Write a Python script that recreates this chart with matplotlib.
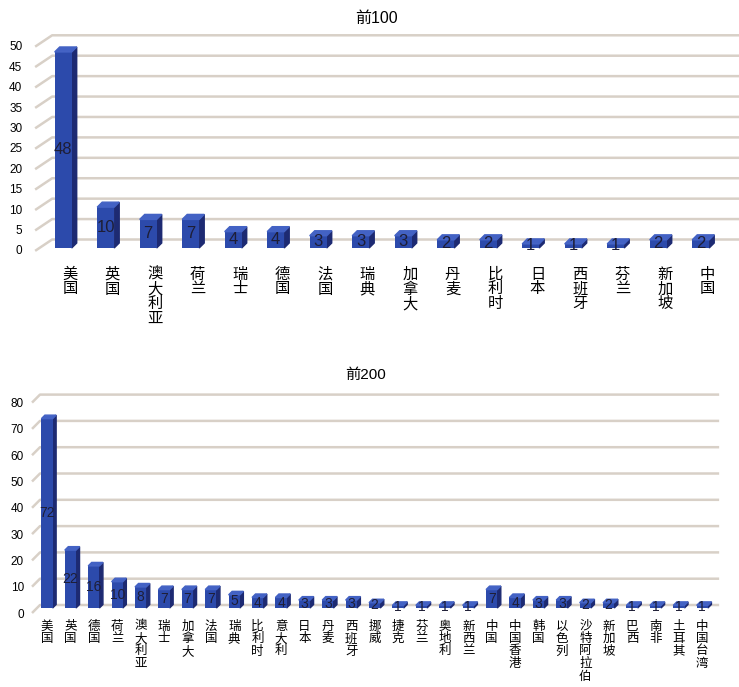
import numpy as np
import matplotlib.pyplot as plt
from matplotlib.patches import Polygon
from matplotlib.transforms import ScaledTranslation

plt.rcParams['font.family'] = ['Liberation Sans', 'Noto Sans CJK SC', 'DejaVu Sans']

# 前100
top100_names = ['美国', '英国', '澳大利亚', '荷兰', '瑞士', '德国', '法国', '瑞典',
                '加拿大', '丹麦', '比利时', '日本', '西班牙', '芬兰', '新加坡', '中国']
top100_counts = [48, 10, 7, 7, 4, 4, 3, 3, 3, 2, 2, 1, 1, 1, 2, 2]
top100_ticks = np.arange(0, 51, 5)

# 前200
top200_names = ['美国', '英国', '德国', '荷兰', '澳大利亚', '瑞士', '加拿大', '法国',
                '瑞典', '比利时', '意大利', '日本', '丹麦', '西班牙', '挪威', '捷克',
                '芬兰', '奥地利', '新西兰', '中国', '中国香港', '韩国', '以色列',
                '沙特阿拉伯', '新加坡', '巴西', '南非', '土耳其', '中国台湾']
top200_counts = [72, 22, 16, 10, 8, 7, 7, 7, 5, 4, 4, 3, 3, 3, 2, 1, 1, 1, 1,
                 7, 4, 3, 3, 2, 2, 1, 1, 1, 1]
top200_ticks = np.arange(0, 81, 10)

FRONT = '#2c4aab'
SIDE = '#1d2a72'
TOPFACE = '#4362c4'
GRID = '#d8d0c7'
VALUE = '#1e1e36'

W, H = 739, 687
fig = plt.figure(figsize=(W / 100, H / 100), dpi=100)


def px_axes(x0, y0, x1, y1):
    return fig.add_axes([x0 / W, 1 - y1 / H, (x1 - x0) / W, (y1 - y0) / H])


def panel(ax, names, counts, ticks, xlim, ylim, width, shift, depth,
          grid_x, lift, drop, label_drop, tick_pad, tick_size,
          name_size, name_pad, value_size):
    ax.set_xlim(*xlim)
    ax.set_ylim(*ylim)
    for s in ax.spines.values():
        s.set_visible(False)

    # gridlines on the back wall, with a short slanted lead-in on the left
    gx0, gx1, gx2 = grid_x
    for v in ticks:
        ax.plot([gx0, gx1, gx2], [v - drop, v + lift, v + lift], color=GRID,
                lw=1.8, zorder=1, clip_on=False, solid_capstyle='butt')

    x = np.arange(len(names))
    dx, dy = depth
    bars = ax.bar(x + shift, counts, width=width, color=FRONT, zorder=4)
    for b, c in zip(bars, counts):
        x0, w = b.get_x(), b.get_width()
        x1 = x0 + w
        ax.add_patch(Polygon([(x1, 0), (x1 + dx, dy), (x1 + dx, c + dy), (x1, c)],
                             closed=True, color=SIDE, zorder=3))
        ax.add_patch(Polygon([(x0, c), (x0 + dx, c + dy), (x1 + dx, c + dy), (x1, c)],
                             closed=True, color=TOPFACE, zorder=4))
        ax.text(x0 + w / 2, c / 2, str(c), ha='center', va='center',
                fontsize=value_size, color=VALUE, zorder=5)

    ax.set_xticks(x, ['\n'.join(n) for n in names])
    for lab in ax.get_xticklabels():
        lab.set_fontsize(name_size)
        lab.set_linespacing(1.05)
        lab.set_verticalalignment('top')
    ax.set_yticks(ticks)
    ax.tick_params(length=0)
    ax.tick_params(axis='x', pad=name_pad)
    ax.tick_params(axis='y', pad=tick_pad, labelsize=tick_size)
    down = ScaledTranslation(0, -label_drop / 100, fig.dpi_scale_trans)
    for lab in ax.get_yticklabels():
        lab.set_transform(lab.get_transform() + down)


ax1 = px_axes(30, 25, 739, 262)
panel(ax1, top100_names, top100_counts, top100_ticks,
      xlim=(-0.941, 15.741), ylim=(-3.43, 54.6),
      width=0.4, shift=-0.16, depth=(0.118, 1.22),
      grid_x=(-0.82, -0.42, 15.741), lift=2.08, drop=0.7, label_drop=2,
      tick_pad=5.5, tick_size=8.5, name_size=11, name_pad=4.0, value_size=12)

ax2 = px_axes(28, 385, 725, 615)
panel(ax2, top200_names, top200_counts, top200_ticks,
      xlim=(-0.812, 28.97), ylim=(-2.66, 84.79),
      width=0.48, shift=0.0, depth=(0.15, 1.33),
      grid_x=(-0.64, -0.30, 28.72), lift=1.14, drop=1.9, label_drop=5,
      tick_pad=2.9, tick_size=8.5, name_size=9, name_pad=4.0, value_size=10)

fig.text(376 / W, 1 - 18 / H, '前100', ha='center', va='center', fontsize=11.5)
fig.text(366 / W, 1 - 375 / H, '前200', ha='center', va='center', fontsize=11)

fig.savefig('out.png', dpi=100)
